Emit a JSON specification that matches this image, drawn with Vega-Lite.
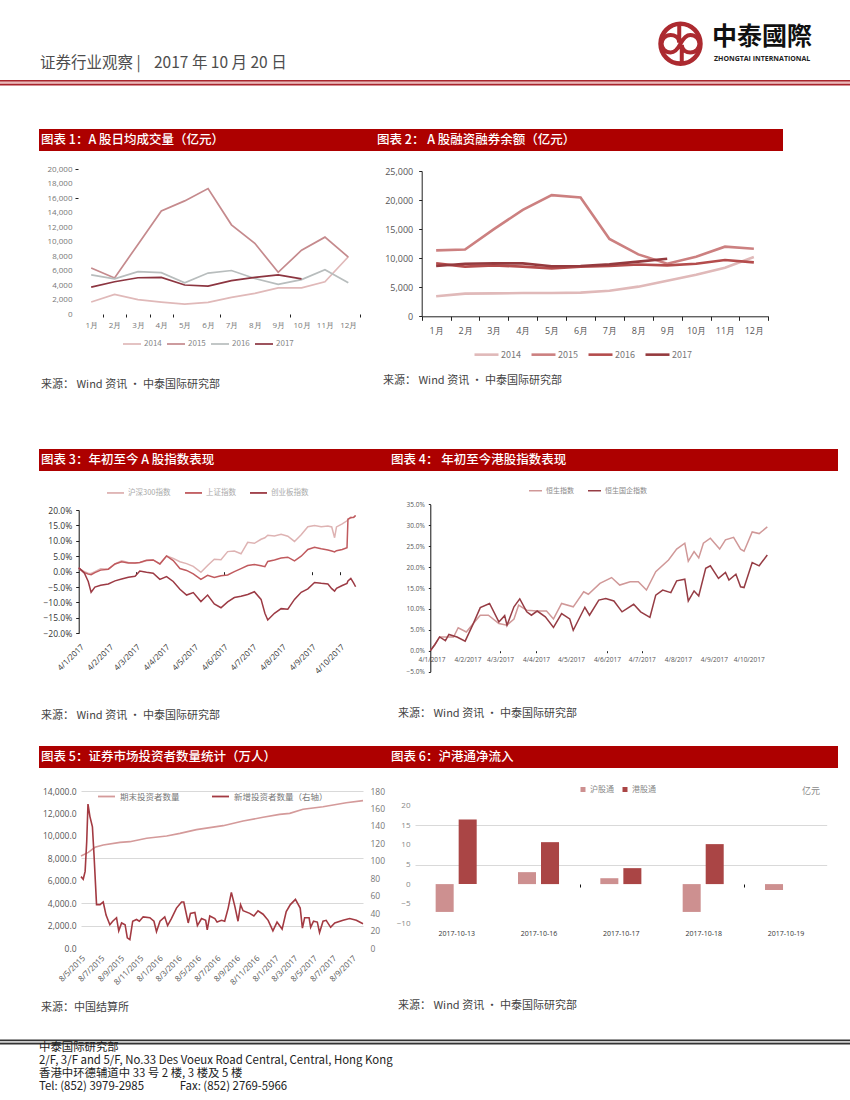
{
"$schema":"https://vega.github.io/schema/vega-lite/v6.json",
"width":850,"height":1100,"padding":0,"autosize":{"type":"none"},
"background":"white",
"config":{"view":{"stroke":null},"axis":{"grid":false,"title":null,"labelFont":"Open Sans","domain":false,"labelOverlap":false},"legend":{"labelFont":"Noto Sans CJK SC","title":null,"orient":"none","direction":"horizontal"},"text":{"font":"Noto Sans CJK SC","align":"left","baseline":"middle"}},
"resolve":{"scale":{"x":"independent","y":"independent","color":"independent"},"axis":{"x":"independent","y":"independent"},"legend":{"color":"independent"}},
"layer":[
{"data":{"values":[{"k":"a"},{"k":"b"},{"k":"c"}]},"mark":{"type":"rect"},"encoding":{
"y":{"field":"k","type":"nominal","axis":null,"scale":{"type":"band","range":[80,85.5],"paddingInner":0,"paddingOuter":0}},
"x":{"datum":"page","type":"nominal","axis":null,"scale":{"type":"band","range":[0,850],"paddingInner":0,"paddingOuter":0}},
"color":{"field":"k","type":"nominal","legend":null,"scale":{"range":["#a8242c","#eab9b9","#a8242c"]}}}},
{"data":{"values":[{"k":"a"},{"k":"b"},{"k":"c"}]},"mark":{"type":"rect"},"encoding":{
"y":{"field":"k","type":"nominal","axis":null,"scale":{"type":"band","range":[1039.5,1044.5],"paddingInner":0,"paddingOuter":0}},
"x":{"datum":"page","type":"nominal","axis":null,"scale":{"type":"band","range":[0,850],"paddingInner":0,"paddingOuter":0}},
"color":{"field":"k","type":"nominal","legend":null,"scale":{"range":["#333333","#cccccc","#333333"]}}}},
{"data":{"values":[{"k":"证券行业观察 |"},{"k":"2017 年 10 月 20 日"}]},"mark":{"type":"text","fontSize":15.5,"color":"#4d4d4d"},"encoding":{
"x":{"field":"k","type":"nominal","sort":null,"axis":null,"scale":{"type":"point","padding":0,"range":[40,154]}},
"y":{"field":"k","type":"nominal","axis":null,"scale":{"type":"point","padding":0,"range":[63,63]}},
"text":{"field":"k"}}},
{"data":{"values":[{"k":"ring"}]},"mark":{"type":"point","filled":false,"shape":"circle","size":1590,"strokeWidth":4.6,"color":"#ac2a30","opacity":1},"encoding":{
"x":{"field":"k","type":"nominal","axis":null,"scale":{"type":"point","range":[680.5,680.5]}},
"y":{"field":"k","type":"nominal","axis":null,"scale":{"type":"point","range":[43.7,43.7]}}}},
{"data":{"values":[{"k":"loop"}]},"mark":{"type":"point","filled":false,"size":1764,"strokeWidth":4,"color":"#ac2a30","opacity":1,"shape":"M-0.06,-1 L-0.06,-0.05 C-0.06,-0.32 -0.3,-0.42 -0.47,-0.42 C-0.72,-0.42 -0.9,-0.22 -0.9,0 C-0.9,0.22 -0.72,0.42 -0.47,0.42 C-0.25,0.42 -0.1,0.2 0,0 C0.1,-0.2 0.25,-0.42 0.47,-0.42 C0.72,-0.42 0.9,-0.22 0.9,0 C0.9,0.22 0.72,0.42 0.47,0.42 C0.3,0.42 0.06,0.32 0.06,0.05 L0.06,1"},"encoding":{
"x":{"field":"k","type":"nominal","axis":null,"scale":{"type":"point","range":[680.5,680.5]}},
"y":{"field":"k","type":"nominal","axis":null,"scale":{"type":"point","range":[43.7,43.7]}}}},
{"data":{"values":[{"k":"中泰國際"}]},"mark":{"type":"text","fontSize":25,"fontWeight":"bold","color":"#111111","font":"Noto Sans CJK TC"},"encoding":{
"x":{"field":"k","type":"nominal","axis":null,"scale":{"type":"point","range":[712,712]}},
"y":{"field":"k","type":"nominal","axis":null,"scale":{"type":"point","range":[37,37]}},
"text":{"field":"k"}}},
{"data":{"values":[{"k":"ZHONGTAI INTERNATIONAL"}]},"mark":{"type":"text","fontSize":7,"fontWeight":"bold","color":"#222222","font":"Open Sans"},"encoding":{
"x":{"field":"k","type":"nominal","axis":null,"scale":{"type":"point","range":[714,714]}},
"y":{"field":"k","type":"nominal","axis":null,"scale":{"type":"point","range":[59,59]}},
"text":{"field":"k"}}},

{"data":{"values":[{"k":"图表 1"}]},"mark":{"type":"rect","color":"#ad0000"},"encoding":{
"x":{"field":"k","type":"nominal","axis":null,"scale":{"type":"band","range":[39,783],"paddingInner":0,"paddingOuter":0}},
"y":{"field":"k","type":"nominal","axis":null,"scale":{"type":"band","range":[129,151],"paddingInner":0,"paddingOuter":0}}}},
{"data":{"values":[{"k":"图表 3"}]},"mark":{"type":"rect","color":"#ad0000"},"encoding":{
"x":{"field":"k","type":"nominal","axis":null,"scale":{"type":"band","range":[39,838],"paddingInner":0,"paddingOuter":0}},
"y":{"field":"k","type":"nominal","axis":null,"scale":{"type":"band","range":[449,471],"paddingInner":0,"paddingOuter":0}}}},
{"data":{"values":[{"k":"图表 5"}]},"mark":{"type":"rect","color":"#ad0000"},"encoding":{
"x":{"field":"k","type":"nominal","axis":null,"scale":{"type":"band","range":[39,838],"paddingInner":0,"paddingOuter":0}},
"y":{"field":"k","type":"nominal","axis":null,"scale":{"type":"band","range":[746,768],"paddingInner":0,"paddingOuter":0}}}},
{"data":{"values":[{"k":"图表 1：A 股日均成交量（亿元）"},{"k":"图表 2： A 股融资融券余额（亿元）"}]},"mark":{"type":"text","fontSize":12.5,"fontWeight":500,"color":"white"},"encoding":{
"x":{"field":"k","type":"nominal","sort":null,"axis":null,"scale":{"type":"point","padding":0,"range":[41,377]}},
"y":{"field":"k","type":"nominal","axis":null,"scale":{"type":"point","padding":0,"range":[140,140]}},
"text":{"field":"k"}}},
{"data":{"values":[{"k":"图表 3：年初至今 A 股指数表现"},{"k":"图表 4： 年初至今港股指数表现"}]},"mark":{"type":"text","fontSize":12.5,"fontWeight":500,"color":"white"},"encoding":{
"x":{"field":"k","type":"nominal","sort":null,"axis":null,"scale":{"type":"point","padding":0,"range":[41,391]}},
"y":{"field":"k","type":"nominal","axis":null,"scale":{"type":"point","padding":0,"range":[460,460]}},
"text":{"field":"k"}}},
{"data":{"values":[{"k":"图表 5：证券市场投资者数量统计（万人）"},{"k":"图表 6：沪港通净流入"}]},"mark":{"type":"text","fontSize":12.5,"fontWeight":500,"color":"white"},"encoding":{
"x":{"field":"k","type":"nominal","sort":null,"axis":null,"scale":{"type":"point","padding":0,"range":[41,391]}},
"y":{"field":"k","type":"nominal","axis":null,"scale":{"type":"point","padding":0,"range":[757,757]}},
"text":{"field":"k"}}},
{"data":{"values":[{"c":"图表 1","k":"来源： Wind 资讯 · 中泰国际研究部"},{"c":"图表 2","k":"来源： Wind 资讯 · 中泰国际研究部"}]},"mark":{"type":"text","fontSize":11,"color":"#444444"},"encoding":{
"x":{"field":"c","type":"nominal","axis":null,"scale":{"type":"point","padding":0,"range":[41,383]}},
"y":{"field":"c","type":"nominal","axis":null,"scale":{"type":"point","padding":0,"range":[385,381]}},
"text":{"field":"k"}}},
{"data":{"values":[{"c":"图表 3","k":"来源： Wind 资讯 · 中泰国际研究部"},{"c":"图表 4","k":"来源： Wind 资讯 · 中泰国际研究部"}]},"mark":{"type":"text","fontSize":11,"color":"#444444"},"encoding":{
"x":{"field":"c","type":"nominal","axis":null,"scale":{"type":"point","padding":0,"range":[41,398]}},
"y":{"field":"c","type":"nominal","axis":null,"scale":{"type":"point","padding":0,"range":[716,714]}},
"text":{"field":"k"}}},
{"data":{"values":[{"c":"图表 5","k":"来源：中国结算所"},{"c":"图表 6","k":"来源： Wind 资讯 · 中泰国际研究部"}]},"mark":{"type":"text","fontSize":11,"color":"#444444"},"encoding":{
"x":{"field":"c","type":"nominal","axis":null,"scale":{"type":"point","padding":0,"range":[41,398]}},
"y":{"field":"c","type":"nominal","axis":null,"scale":{"type":"point","padding":0,"range":[1008,1006]}},
"text":{"field":"k"}}},
{"data":{"values":[{"k":"中泰国际研究部"},{"k":"2/F, 3/F and 5/F, No.33 Des Voeux Road Central, Central, Hong Kong"},{"k":"香港中环德辅道中 33 号 2 楼, 3 楼及 5 楼"},{"k":"Tel: (852) 3979-2985\u00a0\u00a0\u00a0\u00a0\u00a0\u00a0\u00a0\u00a0\u00a0\u00a0\u00a0\u00a0\u00a0\u00a0Fax: (852) 2769-5966"}]},"mark":{"type":"text","fontSize":11.4,"color":"#222222"},"encoding":{
"x":{"field":"k","type":"nominal","axis":null,"scale":{"type":"point","padding":0,"range":[39,39]}},
"y":{"field":"k","type":"nominal","sort":null,"axis":null,"scale":{"type":"point","padding":0,"range":[1048,1087]}},
"text":{"field":"k"}}},

{"data":{"values":[
{"m":"1月","2014":1650,"2015":6350,"2016":5400,"2017":3700},
{"m":"2月","2014":2700,"2015":4970,"2016":4850,"2017":4450},
{"m":"3月","2014":1980,"2015":9600,"2016":5850,"2017":5000},
{"m":"4月","2014":1650,"2015":14200,"2016":5700,"2017":5050},
{"m":"5月","2014":1350,"2015":15600,"2016":4300,"2017":4000},
{"m":"6月","2014":1600,"2015":17300,"2016":5650,"2017":3850},
{"m":"7月","2014":2300,"2015":12300,"2016":6000,"2017":4600},
{"m":"8月","2014":2850,"2015":9750,"2016":4900,"2017":5050},
{"m":"9月","2014":3600,"2015":5750,"2016":4100,"2017":5400},
{"m":"10月","2014":3600,"2015":8800,"2016":4750,"2017":4850},
{"m":"11月","2014":4450,"2015":10600,"2016":6100},
{"m":"12月","2014":7900,"2015":7850,"2016":4300}]},
"transform":[{"fold":["2014","2015","2016","2017"],"as":["s","v"]}],
"mark":{"type":"line","strokeWidth":1.7},
"encoding":{
"x":{"field":"m","type":"nominal","sort":null,"scale":{"type":"band","range":[79.5,360],"paddingInner":0,"paddingOuter":0},"axis":{"orient":"bottom","offset":-786,"labelAngle":0,"labelFontSize":8,"labelColor":"#777777","tickBand":"extent","tickSize":3,"tickColor":"#222222","labelPadding":4,"tickOpacity":{"condition":{"test":"indexof(['1月','2月','3月','4月','6月','9月','12月'],datum.value)>=0","value":1},"value":0}}},
"y":{"field":"v","type":"quantitative","scale":{"domain":[0,20000],"range":[314,169],"nice":false},"axis":{"orient":"left","offset":-78,"values":[0,2000,4000,6000,8000,10000,12000,14000,16000,18000,20000],"format":",d","labelFontSize":8,"labelColor":"#777777","tickSize":3,"tickColor":"#222222","labelPadding":3,"tickOpacity":{"condition":{"test":"datum.value==20000||datum.value==16000","value":1},"value":0}}},
"color":{"field":"s","type":"nominal","scale":{"domain":["2014","2015","2016","2017"],"range":["#e0b9b9","#c58a8d","#b8bdbd","#8c3540"]},"legend":{"legendX":122,"legendY":334,"symbolSize":324,"symbolStrokeWidth":1.7,"labelFontSize":8,"labelColor":"#888888","labelOffset":2,"columnPadding":1,"symbolType":"stroke"}}}},

{"data":{"values":[
{"m":"1月","2014":3440,"2015":11350,"2016":9100,"2017":8650},
{"m":"2月","2014":3900,"2015":11500,"2016":8540,"2017":9050},
{"m":"3月","2014":3950,"2015":15000,"2016":8770,"2017":9100},
{"m":"4月","2014":4000,"2015":18300,"2016":8540,"2017":9100},
{"m":"5月","2014":4000,"2015":20850,"2016":8250,"2017":8600},
{"m":"6月","2014":4070,"2015":20450,"2016":8540,"2017":8650},
{"m":"7月","2014":4400,"2015":13300,"2016":8650,"2017":8940},
{"m":"8月","2014":5100,"2015":10650,"2016":8900,"2017":9400},
{"m":"9月","2014":6130,"2015":9050,"2016":8770,"2017":9900},
{"m":"10月","2014":7160,"2015":10250,"2016":9050},
{"m":"11月","2014":8370,"2015":11980,"2016":9680},
{"m":"12月","2014":10200,"2015":11630,"2016":9280}]},
"transform":[{"fold":["2014","2015","2016","2017"],"as":["s","v"]}],
"mark":{"type":"line","strokeWidth":2.6},
"encoding":{
"x":{"field":"m","type":"nominal","sort":null,"scale":{"type":"band","range":[421.7,768.3],"paddingInner":0,"paddingOuter":0},"axis":{"orient":"bottom","offset":-783.7,"labelAngle":0,"labelFontSize":9,"labelColor":"#555555","tickBand":"extent","tickSize":4,"tickColor":"#222222","domain":true,"domainColor":"#222222","labelPadding":6}},
"y":{"field":"v","type":"quantitative","scale":{"domain":[0,25000],"range":[316.3,171],"nice":false},"axis":{"orient":"left","offset":-421.7,"values":[0,5000,10000,15000,20000,25000],"format":",d","labelFontSize":9,"labelColor":"#555555","tickSize":3,"tickColor":"#222222","domain":true,"domainColor":"#222222","labelPadding":6}},
"color":{"field":"s","type":"nominal","scale":{"domain":["2014","2015","2016","2017"],"range":["#e0b9b9","#cc8080","#b44c4c","#953a3e"]},"legend":{"legendX":473,"legendY":341,"symbolSize":576,"symbolStrokeWidth":2.6,"labelFontSize":9,"labelColor":"#777777","labelOffset":1,"columnPadding":5,"symbolType":"stroke"}}}},

{"data":{"values":[
{"d":"2017-01-03","沪深300指数":1.1,"上证指数":1.1,"创业板指数":1.3},
{"d":"2017-01-09","沪深300指数":0,"上证指数":-0.3,"创业板指数":-0.5},
{"d":"2017-01-13","沪深300指数":-0.5,"上证指数":-0.8,"创业板指数":-3.2},
{"d":"2017-01-16","沪深300指数":-0.6,"上证指数":-1,"创业板指数":-6.7},
{"d":"2017-01-20","沪深300指数":0,"上证指数":-0.3,"创业板指数":-5},
{"d":"2017-01-26","沪深300指数":0.9,"上证指数":0.5,"创业板指数":-4.4},
{"d":"2017-02-03","沪深300指数":0.8,"上证指数":0.8,"创业板指数":-4},
{"d":"2017-02-10","沪深300指数":2.5,"上证指数":2.5,"创业板指数":-3},
{"d":"2017-02-17","沪深300指数":3.5,"上证指数":3.2,"创业板指数":-2.4},
{"d":"2017-02-24","沪深300指数":3,"上证指数":2.8,"创业板指数":-1.8},
{"d":"2017-03-03","沪深300指数":2.8,"上证指数":2.8,"创业板指数":-1.5},
{"d":"2017-03-08","沪深300指数":3,"上证指数":3,"创业板指数":0.2},
{"d":"2017-03-15","沪深300指数":3.5,"上证指数":3.7,"创业板指数":-0.2},
{"d":"2017-03-22","沪深300指数":3.8,"上证指数":3.8,"创业板指数":-0.5},
{"d":"2017-03-29","沪深300指数":2.5,"上证指数":2.5,"创业板指数":-2.5},
{"d":"2017-04-05","沪深300指数":5.1,"上证指数":5.1,"创业板指数":-1.6},
{"d":"2017-04-12","沪深300指数":4.3,"上证指数":3.6,"创业板指数":-3.2},
{"d":"2017-04-19","沪深300指数":3.2,"上证指数":1,"创业板指数":-5.7},
{"d":"2017-04-26","沪深300指数":2.6,"上证指数":0.4,"创业板指数":-7.6},
{"d":"2017-05-03","沪深300指数":1.7,"上证指数":-0.7,"创业板指数":-6.8},
{"d":"2017-05-11","沪深300指数":-0.2,"上证指数":-2.5,"创业板指数":-9.7},
{"d":"2017-05-18","沪深300指数":2,"上证指数":-1.2,"创业板指数":-7.6},
{"d":"2017-05-25","沪深300指数":4,"上证指数":-1.9,"创业板指数":-10.5},
{"d":"2017-06-01","沪深300指数":3.9,"上证指数":-1.3,"创业板指数":-11.7},
{"d":"2017-06-08","沪深300指数":6.5,"上证指数":-1.1,"创业板指数":-9.8},
{"d":"2017-06-15","沪深300指数":6.7,"上证指数":0,"创业板指数":-8.4},
{"d":"2017-06-22","沪深300指数":5.8,"上证指数":1,"创业板指数":-8},
{"d":"2017-06-29","沪深300指数":9.5,"上证指数":2,"创业板指数":-7.4},
{"d":"2017-07-06","沪深300指数":9.2,"上证指数":2.3,"创业板指数":-6.5},
{"d":"2017-07-13","沪深300指数":10.5,"上证指数":1.9,"创业板指数":-9},
{"d":"2017-07-17","沪深300指数":11,"上证指数":1.6,"创业板指数":-13.5},
{"d":"2017-07-20","沪深300指数":11.8,"上证指数":3.3,"创业板指数":-15.7},
{"d":"2017-07-27","沪深300指数":11.6,"上证指数":3.8,"创业板指数":-13.5},
{"d":"2017-08-03","沪深300指数":12.1,"上证指数":4.4,"创业板指数":-12},
{"d":"2017-08-10","沪深300指数":11.5,"上证指数":4.7,"创业板指数":-12.2},
{"d":"2017-08-17","沪深300指数":9.8,"上证指数":3.5,"创业板指数":-9},
{"d":"2017-08-24","沪深300指数":12,"上证指数":5,"创业板指数":-6.7},
{"d":"2017-08-31","沪深300指数":14.6,"上证指数":7.2,"创业板指数":-5.6},
{"d":"2017-09-07","沪深300指数":15,"上证指数":7.9,"创业板指数":-3.5},
{"d":"2017-09-14","沪深300指数":14.6,"上证指数":7.4,"创业板指数":-3.8},
{"d":"2017-09-21","沪深300指数":14.8,"上证指数":7,"创业板指数":-4},
{"d":"2017-09-25","沪深300指数":14.5,"上证指数":6.7,"创业板指数":-5.5},
{"d":"2017-09-28","沪深300指数":11,"上证指数":6.4,"创业板指数":-6.3},
{"d":"2017-09-30","沪深300指数":14.5,"上证指数":6.8,"创业板指数":-5.4},
{"d":"2017-10-06","沪深300指数":15.5,"上证指数":7.2,"创业板指数":-4.5},
{"d":"2017-10-11","沪深300指数":16.5,"上证指数":7.8,"创业板指数":-3.8},
{"d":"2017-10-12","沪深300指数":17,"上证指数":17,"创业板指数":-3},
{"d":"2017-10-15","沪深300指数":17.7,"上证指数":17.5,"创业板指数":-2.2},
{"d":"2017-10-18","沪深300指数":17.6,"上证指数":17.6,"创业板指数":-3.7},
{"d":"2017-10-20","沪深300指数":18.2,"上证指数":18.2,"创业板指数":-4.9}]},
"transform":[{"fold":["沪深300指数","上证指数","创业板指数"],"as":["s","v"]}],
"mark":{"type":"line","strokeWidth":1.5},
"encoding":{
"x":{"field":"d","type":"temporal","scale":{"type":"utc","range":[78.7,355.6],"nice":false},"axis":{"orient":"bottom","offset":-528.3,"values":["2017-01-04","2017-02-04","2017-03-04","2017-04-04","2017-05-04","2017-06-04","2017-07-04","2017-08-04","2017-09-04","2017-10-04"],"labelExpr":"utcFormat(datum.value,'%-d/%-m/%Y')","labelAngle":-45,"labelFontSize":8,"labelColor":"#333333","tickSize":3,"tickColor":"#222222","labelPadding":68,"tickOpacity":{"condition":{"test":"indexof([2,5,8,9],utcmonth(datum.value))>=0","value":1},"value":0}}},
"y":{"field":"v","type":"quantitative","scale":{"domain":[-20,20],"range":[633.3,510],"nice":false},"axis":{"orient":"left","offset":-78.7,"values":[-20,-15,-10,-5,0,5,10,15,20],"labelExpr":"format(datum.value,'.1f')+'%'","labelFontSize":8.5,"labelColor":"#333333","tickSize":3,"tickColor":"#222222","domain":true,"domainColor":"#111111","labelPadding":4}},
"color":{"field":"s","type":"nominal","scale":{"domain":["沪深300指数","上证指数","创业板指数"],"range":["#deb3b3","#c05a5e","#9c3a44"]},"legend":{"legendX":106,"legendY":483,"symbolSize":289,"symbolStrokeWidth":1.8,"labelFontSize":7.5,"labelColor":"#aaaaaa","labelOffset":3,"columnPadding":10,"symbolType":"stroke"}}}},

{"data":{"values":[
{"d":"2017-01-03","s":"恒生指数","v":0},{"d":"2017-01-07","s":"恒生指数","v":1.5},{"d":"2017-01-11","s":"恒生指数","v":3.3},{"d":"2017-01-17","s":"恒生指数","v":3.3},{"d":"2017-01-23","s":"恒生指数","v":3.3},{"d":"2017-01-27","s":"恒生指数","v":5.5},{"d":"2017-02-03","s":"恒生指数","v":4.5},{"d":"2017-02-09","s":"恒生指数","v":6.5},{"d":"2017-02-15","s":"恒生指数","v":8.5},{"d":"2017-02-22","s":"恒生指数","v":8.5},{"d":"2017-03-03","s":"恒生指数","v":6.5},{"d":"2017-03-10","s":"恒生指数","v":6.1},{"d":"2017-03-16","s":"恒生指数","v":7.6},{"d":"2017-03-20","s":"恒生指数","v":10.9},{"d":"2017-03-27","s":"恒生指数","v":9.7},{"d":"2017-04-05","s":"恒生指数","v":9.5},{"d":"2017-04-13","s":"恒生指数","v":9.5},{"d":"2017-04-19","s":"恒生指数","v":7.6},{"d":"2017-04-26","s":"恒生指数","v":11.3},{"d":"2017-05-06","s":"恒生指数","v":10.5},{"d":"2017-05-15","s":"恒生指数","v":14.1},{"d":"2017-05-19","s":"恒生指数","v":13.5},{"d":"2017-05-29","s":"恒生指数","v":16.1},{"d":"2017-06-08","s":"恒生指数","v":17.5},{"d":"2017-06-15","s":"恒生指数","v":15.7},{"d":"2017-06-24","s":"恒生指数","v":16.5},{"d":"2017-07-01","s":"恒生指数","v":16.5},{"d":"2017-07-08","s":"恒生指数","v":14.5},{"d":"2017-07-16","s":"恒生指数","v":18.9},{"d":"2017-07-27","s":"恒生指数","v":21.7},{"d":"2017-08-03","s":"恒生指数","v":24.3},{"d":"2017-08-10","s":"恒生指数","v":25.7},{"d":"2017-08-13","s":"恒生指数","v":21.4},{"d":"2017-08-18","s":"恒生指数","v":23.7},{"d":"2017-08-22","s":"恒生指数","v":22.2},{"d":"2017-08-26","s":"恒生指数","v":25.7},{"d":"2017-09-01","s":"恒生指数","v":26.9},{"d":"2017-09-09","s":"恒生指数","v":24.3},{"d":"2017-09-14","s":"恒生指数","v":26.5},{"d":"2017-09-21","s":"恒生指数","v":27.1},{"d":"2017-09-27","s":"恒生指数","v":24.3},{"d":"2017-09-30","s":"恒生指数","v":23.8},{"d":"2017-10-07","s":"恒生指数","v":28.4},{"d":"2017-10-13","s":"恒生指数","v":28},{"d":"2017-10-20","s":"恒生指数","v":29.6},
{"d":"2017-01-03","s":"恒生国企指数","v":0},{"d":"2017-01-07","s":"恒生国企指数","v":1.5},{"d":"2017-01-11","s":"恒生国企指数","v":3.3},{"d":"2017-01-16","s":"恒生国企指数","v":2.4},{"d":"2017-01-19","s":"恒生国企指数","v":3.9},{"d":"2017-01-26","s":"恒生国企指数","v":3.3},{"d":"2017-02-02","s":"恒生国企指数","v":2.3},{"d":"2017-02-09","s":"恒生国企指数","v":6.5},{"d":"2017-02-15","s":"恒生国企指数","v":10.3},{"d":"2017-02-23","s":"恒生国企指数","v":11.3},{"d":"2017-03-03","s":"恒生国企指数","v":6.9},{"d":"2017-03-08","s":"恒生国企指数","v":8.4},{"d":"2017-03-10","s":"恒生国企指数","v":6.1},{"d":"2017-03-16","s":"恒生国企指数","v":10.5},{"d":"2017-03-21","s":"恒生国企指数","v":12.4},{"d":"2017-03-27","s":"恒生国企指数","v":9.3},{"d":"2017-03-31","s":"恒生国企指数","v":8.5},{"d":"2017-04-05","s":"恒生国企指数","v":9.5},{"d":"2017-04-12","s":"恒生国企指数","v":8.1},{"d":"2017-04-19","s":"恒生国企指数","v":5.6},{"d":"2017-04-26","s":"恒生国企指数","v":8.9},{"d":"2017-05-03","s":"恒生国企指数","v":7.6},{"d":"2017-05-06","s":"恒生国企指数","v":4.9},{"d":"2017-05-16","s":"恒生国企指数","v":10.4},{"d":"2017-05-20","s":"恒生国企指数","v":8.5},{"d":"2017-05-28","s":"恒生国企指数","v":12.1},{"d":"2017-06-03","s":"恒生国企指数","v":12.5},{"d":"2017-06-10","s":"恒生国企指数","v":11.9},{"d":"2017-06-17","s":"恒生国企指数","v":9.3},{"d":"2017-06-27","s":"恒生国企指数","v":11.1},{"d":"2017-07-03","s":"恒生国企指数","v":9.3},{"d":"2017-07-11","s":"恒生国企指数","v":8},{"d":"2017-07-16","s":"恒生国企指数","v":13.3},{"d":"2017-07-22","s":"恒生国企指数","v":14.5},{"d":"2017-07-29","s":"恒生国企指数","v":13.9},{"d":"2017-08-03","s":"恒生国企指数","v":16.7},{"d":"2017-08-10","s":"恒生国企指数","v":17.1},{"d":"2017-08-13","s":"恒生国企指数","v":11.9},{"d":"2017-08-18","s":"恒生国企指数","v":14.3},{"d":"2017-08-22","s":"恒生国企指数","v":13.1},{"d":"2017-08-28","s":"恒生国企指数","v":19.7},{"d":"2017-09-01","s":"恒生国企指数","v":20.3},{"d":"2017-09-08","s":"恒生国企指数","v":17.3},{"d":"2017-09-14","s":"恒生国企指数","v":18.7},{"d":"2017-09-17","s":"恒生国企指数","v":16.9},{"d":"2017-09-23","s":"恒生国企指数","v":18.3},{"d":"2017-09-27","s":"恒生国企指数","v":15.3},{"d":"2017-09-30","s":"恒生国企指数","v":15.1},{"d":"2017-10-07","s":"恒生国企指数","v":21.1},{"d":"2017-10-13","s":"恒生国企指数","v":20.3},{"d":"2017-10-20","s":"恒生国企指数","v":22.9}]},
"mark":{"type":"line","strokeWidth":1.5},
"encoding":{
"x":{"field":"d","type":"temporal","scale":{"type":"utc","range":[430.3,767.3],"nice":false},"axis":{"orient":"bottom","offset":-449.3,"values":["2017-01-04","2017-02-04","2017-03-04","2017-04-04","2017-05-04","2017-06-04","2017-07-04","2017-08-04","2017-09-04","2017-10-04"],"labelExpr":"utcFormat(datum.value,'%-d/%-m/%Y')","labelAngle":0,"labelFontSize":6.5,"labelColor":"#555555","tickSize":2,"tickColor":"#222222","labelPadding":4,"tickOpacity":{"condition":{"test":"indexof([2,3,5,6],utcmonth(datum.value))>=0","value":1},"value":0}}},
"y":{"field":"v","type":"quantitative","scale":{"domain":[-5,35],"range":[671.7,504.3],"nice":false},"axis":{"orient":"left","offset":-430.3,"values":[-5,0,5,10,15,20,25,30,35],"labelExpr":"format(datum.value,'.1f')+'%'","labelFontSize":6.5,"labelColor":"#555555","tickSize":2,"tickColor":"#222222","domain":true,"domainColor":"#111111","labelPadding":4}},
"color":{"field":"s","type":"nominal","scale":{"domain":["恒生指数","恒生国企指数"],"range":["#d09898","#963c44"]},"legend":{"legendX":528,"legendY":483,"symbolSize":169,"symbolStrokeWidth":1.5,"labelFontSize":7,"labelColor":"#888888","labelOffset":3,"columnPadding":11,"symbolType":"stroke"}}}},

{"data":{"values":[
{"d":"2015-05-08","v":8216},{"d":"2015-05-31","v":8540},{"d":"2015-06-21","v":8990},{"d":"2015-07-17","v":9195},{"d":"2015-09-08","v":9430},{"d":"2015-10-09","v":9490},{"d":"2015-12-01","v":9790},{"d":"2016-02-02","v":9995},{"d":"2016-03-15","v":10230},{"d":"2016-05-06","v":10560},{"d":"2016-07-29","v":10915},{"d":"2016-09-30","v":11330},{"d":"2016-12-02","v":11660},{"d":"2017-01-23","v":11920},{"d":"2017-02-24","v":12010},{"d":"2017-04-07","v":12370},{"d":"2017-06-09","v":12600},{"d":"2017-08-21","v":12960},{"d":"2017-10-13","v":13140}]},
"mark":{"type":"line","strokeWidth":1.6},
"encoding":{
"x":{"field":"d","type":"temporal","scale":{"type":"utc","domain":["2015-05-08","2017-10-13"],"range":[81,363],"nice":false},"axis":{"orient":"bottom","offset":-152,"values":["2015-05-08","2015-07-08","2015-09-08","2015-11-08","2016-01-08","2016-03-08","2016-05-08","2016-07-08","2016-09-08","2016-11-08","2017-01-08","2017-03-08","2017-05-08","2017-07-08","2017-09-08"],"labelExpr":"utcFormat(datum.value,'%-d/%-m/%Y')","labelAngle":-45,"labelFontSize":8,"labelColor":"#555555","ticks":false,"labelPadding":6}},
"y":{"field":"v","type":"quantitative","scale":{"domain":[0,14000],"range":[948.3,791],"nice":false},"axis":{"orient":"left","offset":-81,"values":[0,2000,4000,6000,8000,10000,12000,14000],"format":",.1f","labelFontSize":8.5,"labelColor":"#555555","ticks":false,"labelPadding":5,"grid":true,"gridColor":"#d9d9d9","gridOpacity":{"condition":{"test":"indexof([14000,8000,4000,2000],datum.value)>=0","value":1},"value":0}}},
"color":{"datum":"期末投资者数量","scale":{"range":["#d49a9a"]},"legend":{"legendX":97,"legendY":787,"symbolSize":289,"symbolStrokeWidth":1.8,"labelFontSize":8.5,"labelColor":"#777777","labelOffset":4,"symbolType":"stroke"}}}},
{"data":{"values":[
{"d":"2015-05-08","v":82},{"d":"2015-05-15","v":79},{"d":"2015-05-21","v":88},{"d":"2015-05-26","v":122},{"d":"2015-05-30","v":165},{"d":"2015-06-05","v":151},{"d":"2015-06-13","v":139},{"d":"2015-06-18","v":107},{"d":"2015-06-26","v":50},{"d":"2015-07-07","v":50},{"d":"2015-07-17","v":53},{"d":"2015-07-26","v":38},{"d":"2015-08-07","v":27},{"d":"2015-08-16","v":31},{"d":"2015-08-28","v":35},{"d":"2015-09-04","v":20},{"d":"2015-09-13","v":29},{"d":"2015-09-24","v":27},{"d":"2015-10-01","v":12},{"d":"2015-10-09","v":10},{"d":"2015-10-18","v":31},{"d":"2015-10-30","v":33},{"d":"2015-11-08","v":31},{"d":"2015-11-20","v":36},{"d":"2015-12-11","v":35},{"d":"2015-12-24","v":31},{"d":"2016-01-01","v":19},{"d":"2016-01-12","v":31},{"d":"2016-01-27","v":36},{"d":"2016-02-05","v":26},{"d":"2016-02-17","v":34},{"d":"2016-03-04","v":46},{"d":"2016-03-20","v":53},{"d":"2016-03-27","v":53},{"d":"2016-04-10","v":29},{"d":"2016-04-17","v":40},{"d":"2016-05-01","v":41},{"d":"2016-05-09","v":26},{"d":"2016-05-22","v":34},{"d":"2016-06-04","v":32},{"d":"2016-06-09","v":21},{"d":"2016-06-17","v":37},{"d":"2016-07-03","v":34},{"d":"2016-07-10","v":30},{"d":"2016-07-24","v":32},{"d":"2016-08-03","v":31},{"d":"2016-08-14","v":46},{"d":"2016-08-24","v":64},{"d":"2016-09-04","v":48},{"d":"2016-09-14","v":31},{"d":"2016-09-22","v":50},{"d":"2016-09-30","v":43},{"d":"2016-10-21","v":40},{"d":"2016-11-03","v":37},{"d":"2016-11-16","v":43},{"d":"2016-12-02","v":39},{"d":"2016-12-18","v":32},{"d":"2017-01-02","v":20},{"d":"2017-01-15","v":30},{"d":"2017-01-31","v":22},{"d":"2017-02-13","v":42},{"d":"2017-02-26","v":50},{"d":"2017-03-14","v":56},{"d":"2017-03-29","v":46},{"d":"2017-04-05","v":23},{"d":"2017-04-12","v":35},{"d":"2017-04-26","v":35},{"d":"2017-05-01","v":24},{"d":"2017-05-10","v":31},{"d":"2017-05-22","v":30},{"d":"2017-05-29","v":18},{"d":"2017-06-09","v":31},{"d":"2017-06-19","v":32},{"d":"2017-07-03","v":24},{"d":"2017-07-16","v":29},{"d":"2017-08-11","v":32},{"d":"2017-09-01","v":34},{"d":"2017-09-22","v":32},{"d":"2017-10-13","v":28}]},
"mark":{"type":"line","strokeWidth":1.6},
"encoding":{
"x":{"field":"d","type":"temporal","axis":null,"scale":{"type":"utc","domain":["2015-05-08","2017-10-13"],"range":[81,363],"nice":false}},
"y":{"field":"v","type":"quantitative","scale":{"domain":[0,180],"range":[948.3,791],"nice":false},"axis":{"orient":"right","offset":-487,"values":[0,20,40,60,80,100,120,140,160,180],"labelFontSize":8.5,"labelColor":"#777777","ticks":false,"labelPadding":7}},
"color":{"datum":"新增投资者数量（右轴）","scale":{"range":["#a33a42"]},"legend":{"legendX":211,"legendY":787,"symbolSize":289,"symbolStrokeWidth":1.8,"labelFontSize":8.5,"labelColor":"#777777","labelOffset":4,"symbolType":"stroke"}}}},

{"data":{"values":[
{"day":"2017-10-13","s":"沪股通","v":-7.1},{"day":"2017-10-13","s":"港股通","v":16.5},
{"day":"2017-10-16","s":"沪股通","v":3.05},{"day":"2017-10-16","s":"港股通","v":10.7},
{"day":"2017-10-17","s":"沪股通","v":1.5},{"day":"2017-10-17","s":"港股通","v":4.07},
{"day":"2017-10-18","s":"沪股通","v":-7.1},{"day":"2017-10-18","s":"港股通","v":10.2},
{"day":"2017-10-19","s":"沪股通","v":-1.5}]},
"mark":{"type":"bar"},
"encoding":{
"x":{"field":"day","type":"nominal","scale":{"type":"band","range":[415,826.7],"paddingInner":0,"paddingOuter":0},"axis":{"orient":"bottom","offset":-216,"labelAngle":0,"labelFontSize":7,"labelColor":"#333333","tickBand":"extent","tickSize":3,"tickColor":"#111111","labelPadding":42,"tickOpacity":{"condition":{"test":"datum.value=='2017-10-16'||datum.value=='2017-10-18'","value":1},"value":0}}},
"xOffset":{"field":"s","type":"nominal","sort":["沪股通","港股通"],"scale":{"paddingInner":0.217,"paddingOuter":0.897}},
"y":{"field":"v","type":"quantitative","scale":{"domain":[-10,20],"range":[923.3,805.7],"nice":false},"axis":{"orient":"left","offset":-410,"values":[-10,-5,0,5,10,15,20],"labelFontSize":8,"labelColor":"#888888","ticks":false,"labelPadding":0,"grid":true,"gridColor":"#d9d9d9","gridOpacity":{"condition":{"test":"datum.value==5||datum.value==15","value":1},"value":0}}},
"color":{"field":"s","type":"nominal","scale":{"domain":["沪股通","港股通"],"range":["#cd9090","#aa4545"]},"legend":{"legendX":579,"legendY":785.5,"symbolSize":25,"symbolType":"square","labelFontSize":8,"labelColor":"#888888","labelOffset":3,"columnPadding":7}}}},
{"data":{"values":[{"k":"亿元"}]},"mark":{"type":"text","fontSize":9,"color":"#888888"},"encoding":{
"x":{"field":"k","type":"nominal","axis":null,"scale":{"type":"point","range":[802,802]}},
"y":{"field":"k","type":"nominal","axis":null,"scale":{"type":"point","range":[791,791]}},
"text":{"field":"k"}}}
]}
